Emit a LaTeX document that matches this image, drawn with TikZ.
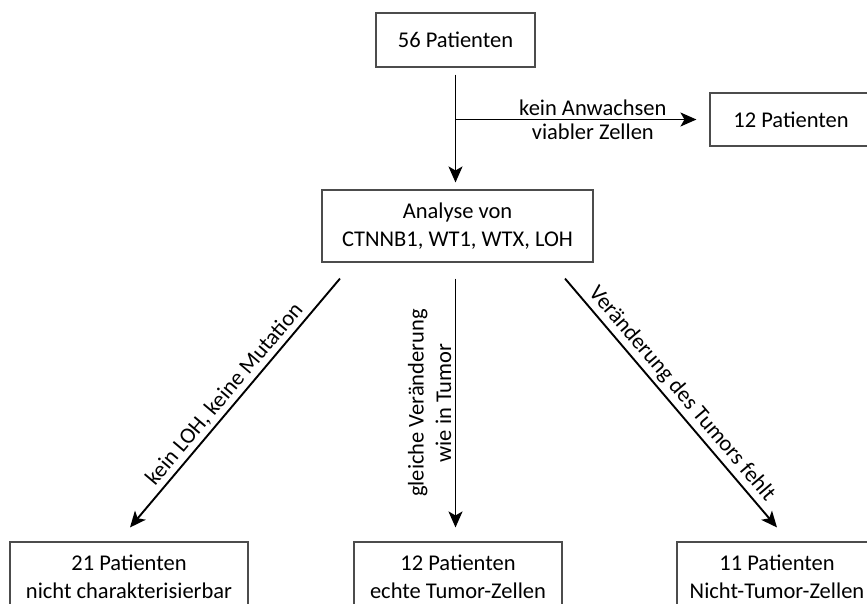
\documentclass[tikz,border=0pt]{standalone}
\usepackage{fontspec}
\setmainfont{Carlito}
\usetikzlibrary{arrows.meta}

\begin{document}
\begin{tikzpicture}[x=1pt,y=-1pt,>=Stealth,
  box/.style={draw=black!70,line width=1.1pt,align=center,inner sep=0pt},
  arr/.style={->,line width=1.9pt,
    >={Stealth[length=16pt,width=14pt,inset=4pt]}},
  every node/.style={font=\fontsize{22.5}{27.5}\selectfont}]
  \useasboundingbox (0,0) rectangle (867,603);
  \clip (0,0) rectangle (867,603);

  % Start, Ausfall, Analyse
  \node[box,minimum width=159pt,minimum height=54pt] (n56) at (455.5,40)
    {56 Patienten};
  \node[box,minimum width=162pt,minimum height=53pt] (n12a) at (791,119.5)
    {12 Patienten};
  \node[box,minimum width=271pt,minimum height=72pt] (analyse) at (457.5,226)
    {Analyse von\\CTNNB1, WT1, WTX, LOH};

  % Ergebnisgruppen (unten angeschnitten)
  \node[box,minimum width=238pt,minimum height=70pt] (nleft) at (129,577)
    {21 Patienten\\nicht charakterisierbar};
  \node[box,minimum width=208pt,minimum height=70pt] (nmid) at (458,577)
    {12 Patienten\\echte Tumor-Zellen};
  \node[box,minimum width=200pt,minimum height=70pt] (nright) at (777,577)
    {11 Patienten\\Nicht-Tumor-Zellen};

  \coordinate (fork) at (n56.south |- n12a.west);
  \coordinate (mtop) at (n56.south |- analyse.south);
  \coordinate (mbot) at (n56.south |- nmid.north);
  \coordinate (atop) at (n56.south |- analyse.north);

  \draw[arr] ([yshift=-7pt]n56.south) -- ([yshift=7pt]atop);
  \draw[arr] (fork) -- ([xshift=-13pt]n12a.west)
    node[pos=.57,above] {kein Anwachsen}
    node[pos=.57,below] {viabler Zellen};

  \draw[arr] ([xshift=-117.5pt,yshift=-16pt]analyse.south)
    -- ([xshift=1pt,yshift=14pt]nleft.north)
    node[midway,sloped,above] {kein LOH, keine Mutation};
  \draw[arr] ([yshift=-16pt]mtop) -- ([yshift=14pt]mbot)
    node[midway,rotate=90,anchor=south,align=center]
      {gleiche Veränderung\\wie in Tumor};
  \draw[arr] ([xshift=107.5pt,yshift=-16pt]analyse.south)
    -- ([yshift=14pt]nright.north)
    node[midway,sloped,above] {Veränderung des Tumors fehlt};
\end{tikzpicture}
\end{document}
